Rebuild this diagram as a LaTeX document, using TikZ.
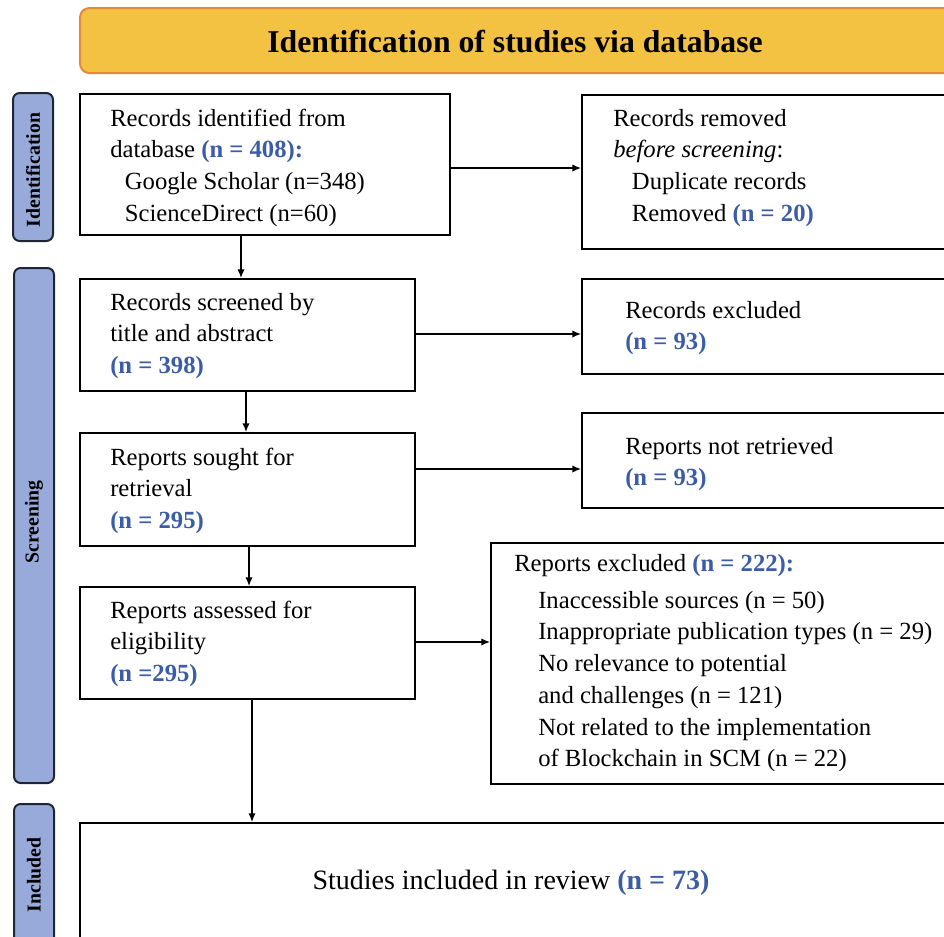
\documentclass[tikz,border=0pt]{standalone}
\usepackage{fontspec}
\setmainfont{Liberation Serif}
\usetikzlibrary{arrows.meta,fit,calc}
\definecolor{hdrfill}{HTML}{F4C242}
\definecolor{hdrline}{HTML}{E3883C}
\definecolor{barfill}{HTML}{98AADA}
\definecolor{barline}{HTML}{1F2533}
\definecolor{nblue}{HTML}{3B5CA6}
\newcommand{\nb}[1]{\textbf{\color{nblue}#1}}
\newcommand{\ind}[1]{\hspace*{#1}}
\begin{document}
\begin{tikzpicture}[x=0.75pt,y=-0.75pt,
  box/.style={draw=black,line width=1.5pt,inner sep=0pt,fill=white},
  bar/.style={draw=barline,fill=barfill,line width=1.5pt,rounded corners=5pt,inner sep=0pt},
  hdr/.style={draw=hdrline,fill=hdrfill,line width=1.5pt,rounded corners=7pt,inner sep=0pt},
  txt/.style={anchor=base west,inner sep=0pt,font=\fontsize{18.5}{23.8}\selectfont},
  bartxt/.style={rotate=90,inner sep=0pt,font=\fontsize{14.8}{16}\selectfont\bfseries,text=black},
  arr/.style={line width=1pt,-{Latex[length=6.5pt,width=5.5pt]}}]
\useasboundingbox (0,0) rectangle (944,936);
\clip (0,0) rectangle (944,936);

% header
\node[hdr, fit={(80,8) (980,73)}] (hdr) {};
\node[anchor=base,inner sep=0pt,font=\fontsize{23.8}{26}\selectfont\bfseries] (title) at (515,52) {Identification of studies via database};

% side bars
\node[bar, fit={(13,93) (53,241)}] (barI) {};
\node[bartxt] (barIt) at (33,170) {Identification};
\node[bar, fit={(14,268) (54,783)}] (barS) {};
\node[bartxt] (barSt) at (34,522) {Screening};
\node[bar, fit={(14,804) (54,990)}] (barN) {};
\node[bartxt] (barNt) at (34,875) {Included};

% boxes
\node[box, fit={(80,94) (450,235)}] (b1) {};
\node[box, fit={(582,95) (980,249)}] (brem) {};
\node[box, fit={(80,279) (415,391)}] (b2) {};
\node[box, fit={(582,279) (980,374)}] (brex) {};
\node[box, fit={(80,433) (415,546)}] (b3) {};
\node[box, fit={(582,413) (980,508)}] (bnr) {};
\node[box, fit={(80,587) (415,699)}] (b4) {};
\node[box, fit={(491,543) (980,784)}] (bpx) {};
\node[box, fit={(80,823) (980,990)}] (b5) {};

% texts
\node[txt] (t1) at (110,126) {\begin{tabular}[t]{@{}l@{}}
Records identified from\\
database \nb{(n = 408):}\\
\ind{11pt}Google Scholar (n=348)\\
\ind{11pt}ScienceDirect (n=60)
\end{tabular}};
\node[txt] (trem) at (613,126) {\begin{tabular}[t]{@{}l@{}}
Records removed\\
\textit{before screening}:\\
\ind{14pt}Duplicate records\\
\ind{14pt}Removed \nb{(n = 20)}
\end{tabular}};
\node[txt] (t2) at (110,310) {\begin{tabular}[t]{@{}l@{}}
Records screened by\\
title and abstract\\
\nb{(n = 398)}
\end{tabular}};
\node[txt] (trex) at (625,318) {\begin{tabular}[t]{@{}l@{}}
Records excluded\\
\nb{(n = 93)}
\end{tabular}};
\node[txt] (t3) at (110,465) {\begin{tabular}[t]{@{}l@{}}
Reports sought for\\
retrieval\\
\nb{(n = 295)}
\end{tabular}};
\node[txt] (tnr) at (625,454) {\begin{tabular}[t]{@{}l@{}}
Reports not retrieved\\
\nb{(n = 93)}
\end{tabular}};
\node[txt] (t4) at (110,618) {\begin{tabular}[t]{@{}l@{}}
Reports assessed for\\
eligibility\\
\nb{(n =295)}
\end{tabular}};
\node[txt] (tpx) at (514,571) {\begin{tabular}[t]{@{}l@{}}
Reports excluded \nb{(n = 222):}\\[4pt]
\ind{18pt}Inaccessible sources (n = 50)\\
\ind{18pt}Inappropriate publication types (n = 29)\\
\ind{18pt}No relevance to potential\\
\ind{18pt}and challenges (n = 121)\\
\ind{18pt}Not related to the implementation\\
\ind{18pt}of Blockchain in SCM (n = 22)
\end{tabular}};
\node[anchor=base,inner sep=0pt,font=\fontsize{21}{24}\selectfont] (t5) at (511,889) {Studies included in review \nb{(n = 73)}};

% arrows
\draw[arr] ($(b1.south west)+(162,0)$) -- ($(b2.north west)+(162,0)$);
\draw[arr] ($(b2.south west)+(167,0)$) -- ($(b3.north west)+(167,0)$);
\draw[arr] ($(b3.south west)+(170,0)$) -- ($(b4.north west)+(170,0)$);
\draw[arr] ($(b4.south west)+(173,0)$) -- ($(b5.north west)+(173,0)$);
\draw[arr] ($(b1.north east)+(0,75)$) -- ($(brem.north west)+(0,74)$);
\draw[arr] ($(b2.north east)+(0,56)$) -- ($(brex.north west)+(0,56)$);
\draw[arr] ($(b3.north east)+(0,37)$) -- ($(bnr.north west)+(0,57)$);
\draw[arr] ($(b4.north east)+(0,56)$) -- ($(bpx.north west)+(0,100)$);
\end{tikzpicture}
\end{document}
